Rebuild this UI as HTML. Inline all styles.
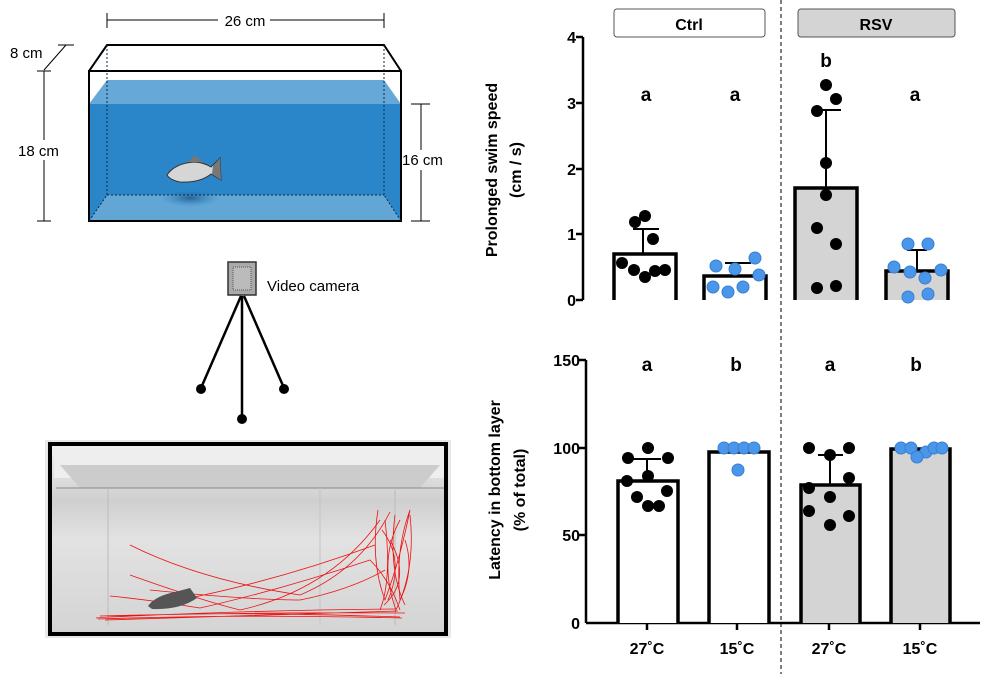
<!DOCTYPE html>
<html><head><meta charset="utf-8"><style>body{margin:0;background:#fff}svg{display:block}text{font-family:"Liberation Sans",sans-serif}</style></head><body>
<svg width="984" height="674" viewBox="0 0 984 674" xmlns="http://www.w3.org/2000/svg">
<defs>
<radialGradient id="sh" cx="0.5" cy="0.5" r="0.5"><stop offset="0" stop-color="#1a4f80" stop-opacity="0.8"/><stop offset="1" stop-color="#2a86c8" stop-opacity="0"/></radialGradient>
<linearGradient id="ph" x1="0" y1="0" x2="0" y2="1"><stop offset="0" stop-color="#f2f2f2"/><stop offset="0.3" stop-color="#cfcfcf"/><stop offset="0.5" stop-color="#e2e2e2"/><stop offset="1" stop-color="#d4d4d4"/></linearGradient>
</defs>
<!-- tank -->
<line x1="107" y1="13" x2="107" y2="28" stroke="#000"/><line x1="384" y1="13" x2="384" y2="28" stroke="#000"/>
<line x1="107" y1="20" x2="218" y2="20" stroke="#000"/><line x1="270" y1="20" x2="384" y2="20" stroke="#000"/>
<text x="245" y="26" font-size="15" text-anchor="middle">26 cm</text>
<polygon points="89,104 107,80 384,80 401,104" fill="#66a9d8"/>
<rect x="89" y="104" width="312" height="117" fill="#2a86c8"/>
<polygon points="89,221 107,195 384,195 401,221" fill="#62a6d6"/>
<ellipse cx="190" cy="198" rx="30" ry="9" fill="url(#sh)"/>
<polyline points="89,104 89,71 107,45 384,45 401,71 401,104" fill="none" stroke="#000" stroke-width="2"/>
<line x1="89" y1="71" x2="401" y2="71" stroke="#000" stroke-width="2"/>
<rect x="89" y="71" width="312" height="150" fill="none" stroke="#000" stroke-width="2"/>
<g stroke="#0b2a44" stroke-dasharray="2,2" fill="none"><line x1="107" y1="45" x2="107" y2="195"/><line x1="384" y1="45" x2="384" y2="195"/><line x1="107" y1="195" x2="384" y2="195"/><line x1="89" y1="221" x2="107" y2="195"/><line x1="401" y1="221" x2="384" y2="195"/></g>
<line x1="44" y1="70" x2="66" y2="45" stroke="#000"/><line x1="58" y1="45" x2="74" y2="45" stroke="#000"/>
<text x="10" y="58" font-size="15">8 cm</text>
<line x1="44" y1="71" x2="44" y2="221" stroke="#000"/><line x1="37" y1="71" x2="51" y2="71" stroke="#000"/><line x1="37" y1="221" x2="51" y2="221" stroke="#000"/>
<rect x="18" y="140" width="50" height="20" fill="#fff"/><text x="18" y="156" font-size="15">18 cm</text>
<line x1="421" y1="104" x2="421" y2="221" stroke="#000"/><line x1="411" y1="104" x2="430" y2="104" stroke="#000"/><line x1="411" y1="221" x2="430" y2="221" stroke="#000"/>
<rect x="402" y="150" width="50" height="20" fill="#fff"/><text x="402" y="165" font-size="15">16 cm</text>
<!-- fish -->
<path d="M167,175 Q175,163 195,162 Q205,163 211,167 L220,158 L221,180 L211,174 Q200,183 180,182 Q170,180 167,175Z" fill="#d6d6d6" stroke="#333" stroke-width="1"/>
<path d="M188,162 L195,155 L203,162Z" fill="#777"/><path d="M213,166 L220,158 L221,180 L212,174Z" fill="#777"/>
<!-- camera -->
<rect x="228" y="262" width="28" height="33" fill="#aaa" stroke="#333" stroke-width="1.5"/><rect x="233" y="267" width="18" height="23" fill="#bbb" stroke="#555" stroke-dasharray="1,1"/>
<text x="267" y="291" font-size="15">Video camera</text>
<g stroke="#000" stroke-width="2.5"><line x1="241" y1="296" x2="201" y2="388"/><line x1="242" y1="296" x2="242" y2="418"/><line x1="244" y1="296" x2="284" y2="388"/></g>
<circle cx="201" cy="389" r="5"/><circle cx="242" cy="419" r="5"/><circle cx="284" cy="389" r="5"/>
<!-- photo -->
<rect x="45" y="440" width="406" height="198" fill="#e8e8e8"/>
<rect x="50" y="444" width="396" height="190" fill="url(#ph)"/>
<rect x="54" y="448" width="390" height="30" fill="#eee"/><polygon points="60,465 440,465 420,488 80,488" fill="#ccc"/><line x1="56" y1="488" x2="444" y2="488" stroke="#888"/>
<line x1="108" y1="488" x2="108" y2="625" stroke="#bbb"/><line x1="320" y1="488" x2="320" y2="625" stroke="#c4c4c4"/><line x1="395" y1="488" x2="395" y2="625" stroke="#bbb"/>
<g fill="none" stroke="#ee1111" stroke-width="0.8">
<path d="M96,618 Q200,610 400,617 M100,616 Q250,612 405,613 M105,620 Q250,616 398,611 M98,619 Q240,614 402,618 M110,617 Q260,610 395,609"/>
<path d="M130,545 Q200,580 300,595 Q360,570 390,512"/><path d="M130,575 Q200,600 240,610 Q330,590 380,520"/>
<path d="M378,510 Q370,560 385,600 Q400,560 410,510 Q395,550 400,600 Q415,570 405,540"/>
<path d="M385,520 Q392,580 380,610 M395,515 Q388,570 405,605 M410,515 Q416,570 395,612 M382,530 Q405,560 388,600 M400,520 Q378,560 396,610 M390,540 Q412,580 384,605"/>
<path d="M110,596 Q150,600 200,608 Q280,590 370,560 Q390,580 400,610 M150,590 Q250,600 300,600 Q350,590 385,570 M180,600 Q280,580 375,545"/>
</g>
<path d="M148,606 Q155,596 175,592 L190,588 L197,598 Q180,610 152,609Z" fill="#555"/>
<rect x="50" y="444" width="396" height="190" fill="none" stroke="#000" stroke-width="4"/>
<!-- divider -->
<line x1="781" y1="0" x2="781" y2="674" stroke="#555" stroke-width="1.5" stroke-dasharray="4,3"/>
<!-- headers -->
<rect x="614" y="9" width="151" height="28" rx="3" fill="#fff" stroke="#555"/><text x="689" y="30" font-size="16" font-weight="bold" text-anchor="middle">Ctrl</text>
<rect x="798" y="9" width="157" height="28" rx="3" fill="#d4d4d4" stroke="#555"/><text x="876" y="30" font-size="16" font-weight="bold" text-anchor="middle">RSV</text>
<!-- top chart -->
<g font-size="16" font-weight="bold" text-anchor="end"><text x="576" y="43">4</text><text x="576" y="109">3</text><text x="576" y="175">2</text><text x="576" y="240">1</text><text x="576" y="306">0</text></g>
<g stroke="#000" stroke-width="2.5"><line x1="583" y1="37" x2="583" y2="300"/><line x1="576" y1="37" x2="583" y2="37"/><line x1="576" y1="103" x2="583" y2="103"/><line x1="576" y1="169" x2="583" y2="169"/><line x1="576" y1="234" x2="583" y2="234"/><line x1="576" y1="300" x2="583" y2="300"/></g>
<g stroke="#000" stroke-width="3.5"><polyline points="614,300 614,254 676,254 676,300" fill="#fff"/><polyline points="704,300 704,276 766,276 766,300" fill="#fff"/><polyline points="795,300 795,188 857,188 857,300" fill="#d4d4d4"/><polyline points="886,300 886,271 948,271 948,300" fill="#d4d4d4"/></g>
<g stroke="#000" stroke-width="2"><line x1="643" y1="254" x2="643" y2="229"/><line x1="633" y1="229" x2="659" y2="229"/><line x1="735" y1="276" x2="735" y2="263"/><line x1="725" y1="263" x2="751" y2="263"/><line x1="826" y1="188" x2="826" y2="110"/><line x1="816" y1="110" x2="841" y2="110"/><line x1="917" y1="271" x2="917" y2="250"/><line x1="907" y1="250" x2="927" y2="250"/></g>
<g fill="#000"><circle cx="635" cy="222" r="6"/><circle cx="645" cy="216" r="6"/><circle cx="653" cy="239" r="6"/><circle cx="622" cy="263" r="6"/><circle cx="634" cy="270" r="6"/><circle cx="645" cy="277" r="6"/><circle cx="655" cy="271" r="6"/><circle cx="665" cy="270" r="6"/>
<circle cx="826" cy="85" r="6"/><circle cx="836" cy="99" r="6"/><circle cx="817" cy="111" r="6"/><circle cx="826" cy="163" r="6"/><circle cx="826" cy="195" r="6"/><circle cx="817" cy="228" r="6"/><circle cx="836" cy="244" r="6"/><circle cx="817" cy="288" r="6"/><circle cx="836" cy="286" r="6"/></g>
<g fill="#4a96ea" stroke="#3a7fcf"><circle cx="716" cy="266" r="6"/><circle cx="735" cy="269" r="6"/><circle cx="755" cy="258" r="6"/><circle cx="759" cy="275" r="6"/><circle cx="713" cy="287" r="6"/><circle cx="728" cy="292" r="6"/><circle cx="743" cy="287" r="6"/>
<circle cx="908" cy="244" r="6"/><circle cx="928" cy="244" r="6"/><circle cx="894" cy="267" r="6"/><circle cx="910" cy="272" r="6"/><circle cx="941" cy="270" r="6"/><circle cx="925" cy="278" r="6"/><circle cx="908" cy="297" r="6"/><circle cx="928" cy="294" r="6"/></g>
<g font-size="19" font-weight="bold" text-anchor="middle"><text x="646" y="101">a</text><text x="735" y="101">a</text><text x="826" y="67">b</text><text x="915" y="101">a</text></g>
<text transform="translate(497,170) rotate(-90)" font-size="16" font-weight="bold" text-anchor="middle">Prolonged swim speed</text>
<text transform="translate(521,170) rotate(-90)" font-size="16" font-weight="bold" text-anchor="middle">(cm / s)</text>
<!-- bottom chart -->
<g font-size="16" font-weight="bold" text-anchor="end"><text x="580" y="366">150</text><text x="580" y="454">100</text><text x="580" y="541">50</text><text x="580" y="629">0</text></g>
<g stroke="#000" stroke-width="2.5"><line x1="586" y1="360" x2="586" y2="623"/><line x1="586" y1="623" x2="980" y2="623"/><line x1="579" y1="360" x2="586" y2="360"/><line x1="579" y1="448" x2="586" y2="448"/><line x1="579" y1="535" x2="586" y2="535"/><line x1="647" y1="623" x2="647" y2="630"/><line x1="737" y1="623" x2="737" y2="630"/><line x1="829" y1="623" x2="829" y2="630"/><line x1="920" y1="623" x2="920" y2="630"/></g>
<g stroke="#000" stroke-width="3.5"><polyline points="618,623 618,481 678,481 678,623" fill="#fff"/><polyline points="709,623 709,452 769,452 769,623" fill="#fff"/><polyline points="801,623 801,485 860,485 860,623" fill="#d4d4d4"/><polyline points="891,623 891,449 950,449 950,623" fill="#d4d4d4"/></g>
<g stroke="#000" stroke-width="2"><line x1="647" y1="481" x2="647" y2="459"/><line x1="633" y1="459" x2="661" y2="459"/><line x1="830" y1="485" x2="830" y2="455"/><line x1="818" y1="455" x2="843" y2="455"/></g>
<g fill="#000"><circle cx="648" cy="448" r="6"/><circle cx="628" cy="458" r="6"/><circle cx="668" cy="458" r="6"/><circle cx="648" cy="476" r="6"/><circle cx="627" cy="481" r="6"/><circle cx="667" cy="491" r="6"/><circle cx="637" cy="497" r="6"/><circle cx="648" cy="506" r="6"/><circle cx="659" cy="506" r="6"/>
<circle cx="809" cy="448" r="6"/><circle cx="849" cy="448" r="6"/><circle cx="830" cy="455" r="6"/><circle cx="849" cy="478" r="6"/><circle cx="809" cy="488" r="6"/><circle cx="830" cy="497" r="6"/><circle cx="809" cy="511" r="6"/><circle cx="849" cy="516" r="6"/><circle cx="830" cy="525" r="6"/></g>
<g fill="#4a96ea" stroke="#3a7fcf"><circle cx="724" cy="448" r="6"/><circle cx="734" cy="448" r="6"/><circle cx="744" cy="448" r="6"/><circle cx="754" cy="448" r="6"/><circle cx="738" cy="470" r="6"/>
<circle cx="901" cy="448" r="6"/><circle cx="911" cy="448" r="6"/><circle cx="926" cy="452" r="6"/><circle cx="934" cy="448" r="6"/><circle cx="942" cy="448" r="6"/><circle cx="917" cy="457" r="6"/></g>
<g font-size="19" font-weight="bold" text-anchor="middle"><text x="647" y="371">a</text><text x="736" y="371">b</text><text x="830" y="371">a</text><text x="916" y="371">b</text></g>
<g font-size="16" font-weight="bold" text-anchor="middle"><text x="647" y="654">27˚C</text><text x="737" y="654">15˚C</text><text x="829" y="654">27˚C</text><text x="920" y="654">15˚C</text></g>
<text transform="translate(500,490) rotate(-90)" font-size="16" font-weight="bold" text-anchor="middle">Latency in bottom layer</text>
<text transform="translate(525,490) rotate(-90)" font-size="16" font-weight="bold" text-anchor="middle">(% of total)</text>
</svg>
</body></html>
